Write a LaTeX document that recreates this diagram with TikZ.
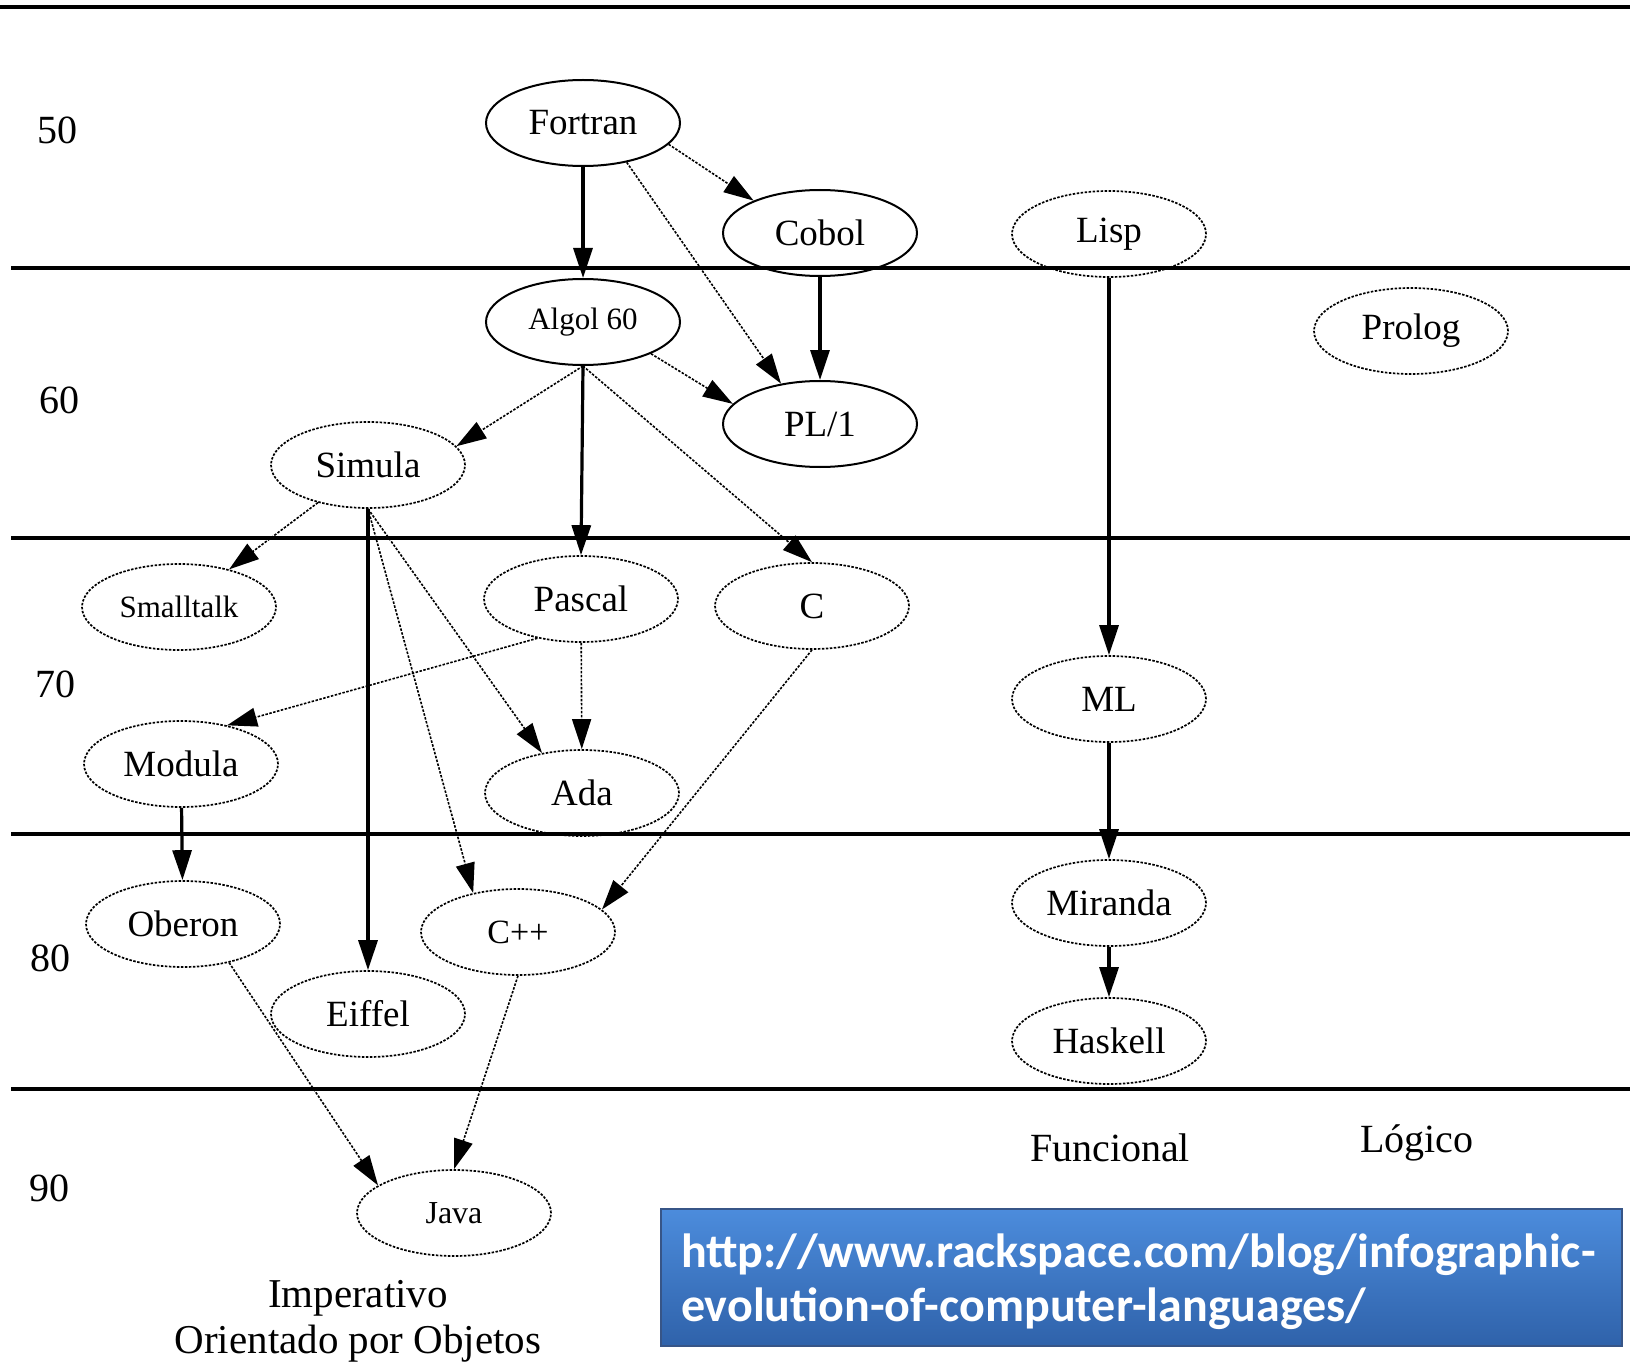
\documentclass[tikz,border=0pt]{standalone}
\usepackage{fontspec}
\setmainfont{Liberation Serif}
\newfontfamily\urlfont{Carlito}
\usetikzlibrary{shapes.geometric,arrows.meta}
\definecolor{boxtop}{RGB}{76,140,220}
\definecolor{boxbot}{RGB}{47,98,170}
\definecolor{boxedge}{RGB}{55,85,135}
\tikzset{
 lang/.style={ellipse, minimum width=194pt, minimum height=86pt, inner sep=0pt, font=\fontsize{37}{40}\selectfont},
 solidlang/.style={lang, draw, line width=2pt},
 dotlang/.style={lang, draw, line width=1.7pt, dash pattern=on 2.5pt off 1.5pt},
 strong/.style={line width=3.2pt, -{Triangle[length=30pt,width=19pt]}},
 weak/.style={line width=1.6pt, dash pattern=on 2.5pt off 1.5pt, -{Triangle[length=30pt,width=19pt]}},
 rulerline/.style={line width=3.2pt},
 lbl/.style={font=\fontsize{40}{46}\selectfont, inner sep=0pt},
}
\begin{document}
\begin{tikzpicture}[x=1pt,y=-1pt]
\useasboundingbox (0,0) rectangle (1630,1364);
% horizontal rules
\draw[rulerline] (0,7) -- (1630,7);
\draw[rulerline] (11,268) -- (1630,268);
\draw[rulerline] (11,538) -- (1630,538);
\draw[rulerline] (11,834) -- (1630,834);
\draw[rulerline] (11,1089) -- (1630,1089);
% decade labels
\node[lbl] (d50) at (57,130) {50};
\node[lbl] (d60) at (59,400) {60};
\node[lbl] (d70) at (55,684) {70};
\node[lbl] (d80) at (50,958) {80};
\node[lbl] (d90) at (49,1188) {90};
% nodes
\node[solidlang] (fortran) at (583,123) {Fortran};
\node[solidlang] (cobol) at (820,233) {Cobol};
\node[dotlang] (lisp) at (1109,234) {Lisp};
\node[solidlang, font=\fontsize{31}{34}\selectfont] (algol) at (583,322) {Algol 60};
\node[dotlang] (prolog) at (1411,331) {Prolog};
\node[solidlang] (pl1) at (820,424) {PL/1};
\node[dotlang] (simula) at (368,465) {Simula};
\node[dotlang, font=\fontsize{31}{34}\selectfont] (smalltalk) at (179,607) {Smalltalk};
\node[dotlang] (pascal) at (581,599) {Pascal};
\node[dotlang] (c) at (812,606) {C};
\node[dotlang] (ml) at (1109,699) {ML};
\node[dotlang] (modula) at (181,764) {Modula};
\node[dotlang] (ada) at (582,793) {Ada};
\node[dotlang] (oberon) at (183,924) {Oberon};
\node[dotlang, font=\fontsize{34}{36}\selectfont] (cpp) at (518,932) {C++};
\node[dotlang] (miranda) at (1109,903) {Miranda};
\node[dotlang] (eiffel) at (368,1014) {Eiffel};
\node[dotlang] (haskell) at (1109,1041) {Haskell};
\node[dotlang, font=\fontsize{32}{34}\selectfont] (java) at (454,1213) {Java};
% strong edges
\draw[strong] (fortran) -- (algol);
\draw[strong] (cobol) -- (pl1);
\draw[strong] (algol.south) -- (pascal.north);
\draw[strong] (lisp) -- (ml);
\draw[strong] (simula.south) -- (eiffel.north);
\draw[strong] (modula) -- (oberon);
\draw[strong] (ml) -- (miranda);
\draw[strong] (miranda) -- (haskell);
% weak edges
\draw[weak] (fortran.-14) -- (cobol.154);
\draw[weak] (fortran.-42) -- (pl1.134);
\draw[weak] (algol.-25) -- (pl1.167);
\draw[weak] (algol.south) -- (simula.12);
\draw[weak] (algol.south) -- (c.north);
\draw[weak] (simula) -- (smalltalk);
\draw[weak] (simula.south) -- (ada.135);
\draw[weak] (simula.south) -- (cpp.139);
\draw[weak] (pascal.222) -- (modula.40);
\draw[weak] (pascal) -- (ada);
\draw[weak] (c.south) -- (cpp.15);
\draw[weak] (oberon.-40) -- (java.160);
\draw[weak] (cpp.south) -- (java.north);
% category labels
\node[lbl, align=center, font=\fontsize{41}{46}\selectfont] (imp) at (358,1321) {Imperativo\\Orientado por Objetos};
\node[lbl] (func) at (1110,1148) {Funcional};
\node[lbl] (logico) at (1417,1143) {Lógico};
% url box
\node[draw=boxedge, line width=2pt, top color=boxtop, bottom color=boxbot,
      minimum width=961pt, minimum height=137pt, inner sep=0pt]
      (urlbox) at (1141.5,1277.5) {};
\node[text width=921pt, align=left, text=white, inner sep=0pt,
      font=\urlfont\bfseries\fontsize{48}{54}\selectfont]
      (url) at (1141.5,1282) {http://www.rackspace.com/blog/infographic-\\evolution-of-computer-languages/};
\end{tikzpicture}
\end{document}
